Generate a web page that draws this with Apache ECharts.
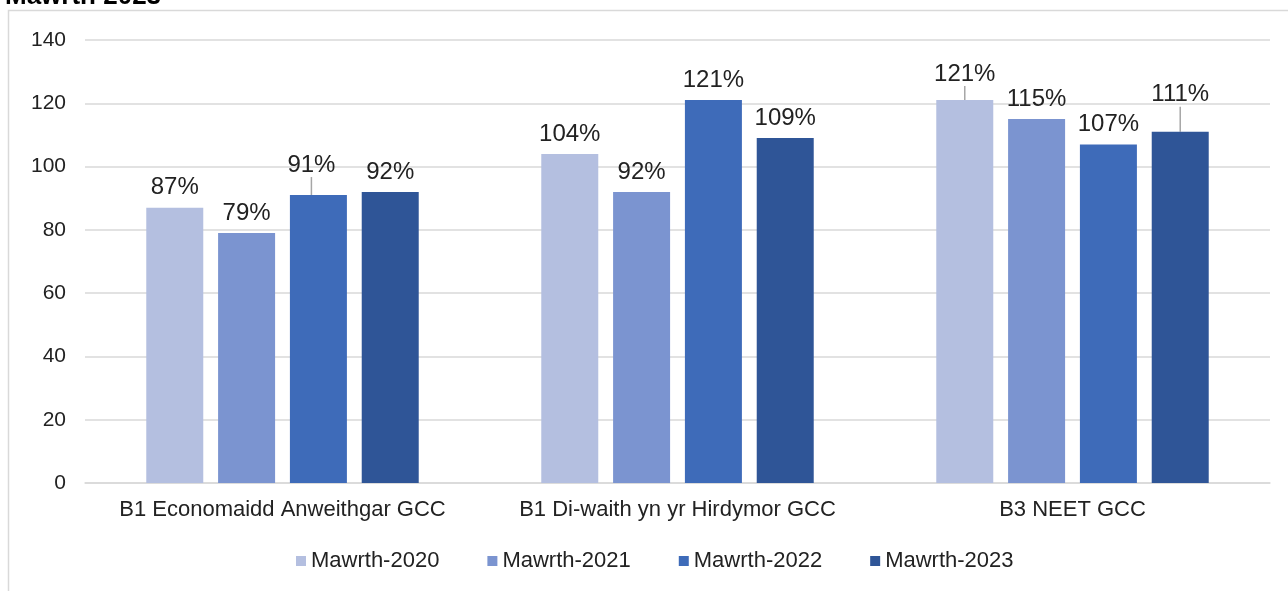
<!DOCTYPE html>
<html>
<head>
<meta charset="utf-8">
<script src="https://cdn.jsdelivr.net/npm/echarts@6/dist/echarts.min.js"></script>
<style>
  html, body { margin: 0; padding: 0; background: #fff; }
  #main { width: 1288px; height: 591px; }
</style>
</head>
<body>
<div id="main"></div>
<script>
const categories = ['B1 Economaidd Anweithgar GCC', 'B1 Di-waith yn yr Hirdymor GCC', 'B3 NEET GCC'];
const seriesNames = ['Mawrth-2020', 'Mawrth-2021', 'Mawrth-2022', 'Mawrth-2023'];
const mar2020 = [87, 104, 121];
const mar2021 = [79, 92, 115];
const mar2022 = [91, 121, 107];
const mar2023 = [92, 109, 111];
const colors = ['#b4bfe0', '#7b94d0', '#3e6bb9', '#2f5597'];

// labels that Excel moved up with a leader line: [series, dataIndex, dx, dy]
const moved = [[2, 0, -7, -10], [0, 2, 0, -6], [3, 2, 0, -17]];

let chart = echarts.init(document.getElementById('main'));

const font = 'Liberation Sans, Arial, sans-serif';

function findMove(i, idx) {
    for (const m of moved) {
        if (m[0] === i && m[1] === idx) return m;
    }
    return null;
}

function makeSeries(name, values, i) {
    let data = values.map((v, idx) => {
        if (findMove(i, idx)) {
            return { value: v, labelLine: { show: true } };
        }
        return v;
    });
    return {
        name: name,
        type: 'bar',
        data: data,
        barWidth: 57,
        barGap: '26%',
        itemStyle: { color: colors[i] },
        label: {
            show: true,
            position: 'top',
            distance: 8,
            formatter: '{c}%',
            color: '#222',
            fontSize: 24,
            fontFamily: font
        },
        labelLine: { show: false, lineStyle: { color: '#a6a6a6', width: 1.5 } },
        labelLayout: function (p) {
            let m = findMove(i, p.dataIndex);
            if (m) return { dx: m[2], dy: m[3] };
            return {};
        }
    };
}

let option = {
    animation: false,
    title: {
        text: 'Mawrth 2023',
        left: 0,
        top: -21,
        textStyle: { fontFamily: font, fontWeight: 'bold', fontSize: 26, color: '#000' }
    },
    graphic: [{
        type: 'rect',
        silent: true,
        z: -1,
        shape: { x: 8.5, y: 10.5, width: 1300, height: 600 },
        style: { fill: null, stroke: '#d9d9d9', lineWidth: 1.5 }
    }],
    legend: {
        data: seriesNames,
        bottom: 14,
        left: 291,
        icon: 'rect',
        itemWidth: 10,
        itemHeight: 10,
        itemGap: 48,
        textStyle: { fontFamily: font, fontSize: 22, color: '#222' }
    },
    grid: { left: 85, right: 18, top: 40, bottom: 108 },
    xAxis: {
        type: 'category',
        data: categories,
        axisTick: { show: false },
        axisLine: { lineStyle: { color: '#d9d9d9', width: 1.5 } },
        axisLabel: { interval: 0, fontFamily: font, fontSize: 22, color: '#222', margin: 16 }
    },
    yAxis: {
        type: 'value',
        min: 0,
        max: 140,
        interval: 20,
        axisLabel: { fontFamily: font, fontSize: 21, color: '#222', margin: 19 },
        splitLine: { lineStyle: { color: '#d9d9d9', width: 1.5 } }
    },
    series: [
        makeSeries(seriesNames[0], mar2020, 0),
        makeSeries(seriesNames[1], mar2021, 1),
        makeSeries(seriesNames[2], mar2022, 2),
        makeSeries(seriesNames[3], mar2023, 3)
    ]
};

chart.setOption(option);

window.onresize = () => {
    chart.resize();
};
</script>
</body>
</html>
